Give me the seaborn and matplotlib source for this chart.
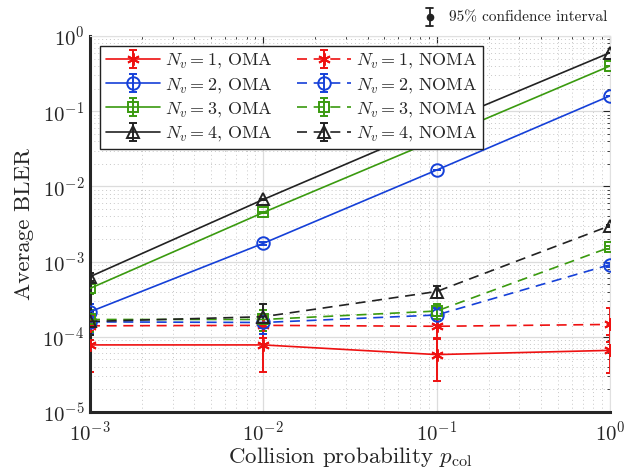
import numpy as np
import pandas as pd
import matplotlib
matplotlib.use("Agg")
import matplotlib.pyplot as plt
from matplotlib.lines import Line2D
from matplotlib.legend_handler import HandlerTuple
import seaborn as sns

# ---------------- data ----------------
p_col = [1e-3, 1e-2, 1e-1, 1e0]

oma_n1 = [7.8e-5, 7.8e-5, 5.8e-5, 6.6e-5]
oma_n1_lo = [3.4e-5, 3.4e-5, 2.6e-5, 3.3e-5]
oma_n1_hi = [1.2e-4, 1.2e-4, 9.5e-5, 1.05e-4]

oma_n2 = [2.15e-4, 1.75e-3, 1.65e-2, 1.6e-1]
oma_n2_lo = [1.65e-4, 1.68e-3, 1.63e-2, 1.59e-1]
oma_n2_hi = [2.7e-4, 1.82e-3, 1.67e-2, 1.61e-1]

oma_n3 = [4.4e-4, 4.5e-3, 4.2e-2, 4.0e-1]
oma_n3_lo = [3.7e-4, 4.4e-3, 4.17e-2, 3.99e-1]
oma_n3_hi = [5.1e-4, 4.6e-3, 4.23e-2, 4.01e-1]

oma_n4 = [6.3e-4, 6.7e-3, 6.5e-2, 6.0e-1]
oma_n4_lo = [5.5e-4, 6.6e-3, 6.47e-2, 5.99e-1]
oma_n4_hi = [7.1e-4, 6.8e-3, 6.53e-2, 6.01e-1]

noma_n1 = [1.4e-4, 1.42e-4, 1.38e-4, 1.46e-4]
noma_n1_lo = [9.0e-5, 9.5e-5, 9.4e-5, 8.5e-5]
noma_n1_hi = [1.95e-4, 1.95e-4, 1.9e-4, 2.45e-4]

noma_n2 = [1.58e-4, 1.55e-4, 1.95e-4, 9.1e-4]
noma_n2_lo = [1.1e-4, 1.1e-4, 1.45e-4, 8.6e-4]
noma_n2_hi = [2.1e-4, 2.0e-4, 2.45e-4, 9.6e-4]

noma_n3 = [1.7e-4, 1.7e-4, 2.2e-4, 1.55e-3]
noma_n3_lo = [1.15e-4, 1.2e-4, 1.7e-4, 1.49e-3]
noma_n3_hi = [2.3e-4, 2.25e-4, 2.7e-4, 1.61e-3]

noma_n4 = [1.6e-4, 1.85e-4, 4.0e-4, 3.0e-3]
noma_n4_lo = [1.05e-4, 1.3e-4, 3.3e-4, 2.92e-3]
noma_n4_hi = [2.2e-4, 2.75e-4, 4.7e-4, 3.08e-3]

labels_oma = [r'$N_v = 1$, OMA', r'$N_v = 2$, OMA', r'$N_v = 3$, OMA', r'$N_v = 4$, OMA']
labels_noma = [r'$N_v = 1$, NOMA', r'$N_v = 2$, NOMA', r'$N_v = 3$, NOMA', r'$N_v = 4$, NOMA']
x_ticks = [1e-3, 1e-2, 1e-1, 1e0]
y_ticks = [1e-5, 1e-4, 1e-3, 1e-2, 1e-1, 1e0]

# ---------------- style ----------------
sns.set_style("white")
plt.rcParams['font.family'] = 'serif'
plt.rcParams['font.serif'] = ['cmr10']
plt.rcParams['mathtext.fontset'] = 'cm'
plt.rcParams['axes.formatter.use_mathtext'] = True
plt.rcParams['axes.unicode_minus'] = False

colors = ['#ee1111', '#1540d8', '#3a9a0f', '#222222']
markers = [(6, 2, 0), 'o', 's', '^']
msizes = [9, 9, 7, 9]

fig = plt.figure(figsize=(6.35, 4.7), dpi=100)
ax = fig.add_axes([0.1417, 0.1234, 0.8189, 0.8000])

oma = [(oma_n1, oma_n1_lo, oma_n1_hi), (oma_n2, oma_n2_lo, oma_n2_hi),
       (oma_n3, oma_n3_lo, oma_n3_hi), (oma_n4, oma_n4_lo, oma_n4_hi)]
noma = [(noma_n1, noma_n1_lo, noma_n1_hi), (noma_n2, noma_n2_lo, noma_n2_hi),
        (noma_n3, noma_n3_lo, noma_n3_hi), (noma_n4, noma_n4_lo, noma_n4_hi)]

handles_oma, handles_noma = [], []
for group, ls, store in [(oma, '-', handles_oma), (noma, (0, (6, 4)), handles_noma)]:
    for i, (y, lo, hi) in enumerate(group):
        df = pd.DataFrame({'p': p_col, 'bler': y})
        n_before = len(ax.lines)
        sns.lineplot(data=df, x='p', y='bler', ax=ax, color=colors[i],
                     marker=markers[i], markersize=msizes[i], markerfacecolor='none',
                     markeredgecolor=colors[i], markeredgewidth=1.4,
                     linewidth=1.2, linestyle=ls, legend=False, zorder=3)
        line = ax.lines[n_before]
        yv = np.array(y)
        yerr = np.vstack([yv - np.array(lo), np.array(hi) - yv])
        eb = ax.errorbar(p_col, y, yerr=yerr, fmt='none', ecolor=colors[i],
                         elinewidth=1.4, capsize=3, capthick=1.4, zorder=2)
        store.append((line, eb))

ax.set_xscale('log')
ax.set_yscale('log')
ax.set_xlim(1e-3, 1e0)
ax.set_ylim(1e-5, 1e0)
ax.set_xticks(x_ticks)
ax.set_yticks(y_ticks)
ax.tick_params(which='both', direction='in', top=True, right=True,
               labelsize=15, colors='#262626')
ax.tick_params(which='major', length=5, width=0.8, pad=4)
ax.tick_params(axis='x', which='major', pad=6)
ax.tick_params(which='minor', length=2.5, width=0.6)
ax.grid(True, which='major', color='#dcdcdc', linewidth=0.9, linestyle='-')
ax.grid(True, which='minor', color='#c8c8c8', linewidth=0.7, linestyle=(0, (1, 3)))
ax.set_axisbelow(True)
for s in ax.spines.values():
    s.set_linewidth(2.2)
    s.set_color('#262626')
for s in ['top', 'right']:
    ax.spines[s].set_linewidth(0.8)
    ax.spines[s].set_color('#e0e0e0')

ax.set_xlabel(r'Collision probability $p_{\mathrm{col}}$', fontsize=16.5, labelpad=0,
              color='#262626')
ax.set_ylabel('Average BLER', fontsize=16.5, labelpad=6, color='#262626')

# legend, two columns
all_handles = handles_oma + handles_noma
all_labels = labels_oma + labels_noma
leg = ax.legend(all_handles, all_labels, ncol=2, loc='upper left',
                bbox_to_anchor=(0.02, 0.973), fontsize=13,
                handler_map={tuple: HandlerTuple(ndivide=1)},
                handlelength=3.0, handletextpad=0.3, columnspacing=1.3,
                labelspacing=0.3, borderpad=0.3, fancybox=False,
                framealpha=1, edgecolor='#222222', borderaxespad=0)
leg.get_frame().set_linewidth(1.0)

# confidence-interval note above axes
txt = fig.text(0.956, 0.962, '95% confidence interval', fontsize=11, va='center',
               ha='right', color='#222222')
fig.canvas.draw()
bb = txt.get_window_extent().transformed(fig.transFigure.inverted())
xi = bb.x0 - 0.03
fig.add_artist(Line2D([xi, xi], [0.944, 0.982], color='#222222', lw=1.3))
fig.add_artist(Line2D([xi - 0.005, xi + 0.005], [0.944, 0.944], color='#222222', lw=1.3))
fig.add_artist(Line2D([xi - 0.005, xi + 0.005], [0.982, 0.982], color='#222222', lw=1.3))
fig.add_artist(Line2D([xi], [0.963], marker='o', ms=4.5, color='#222222'))

fig.savefig('out.png', dpi=100)
